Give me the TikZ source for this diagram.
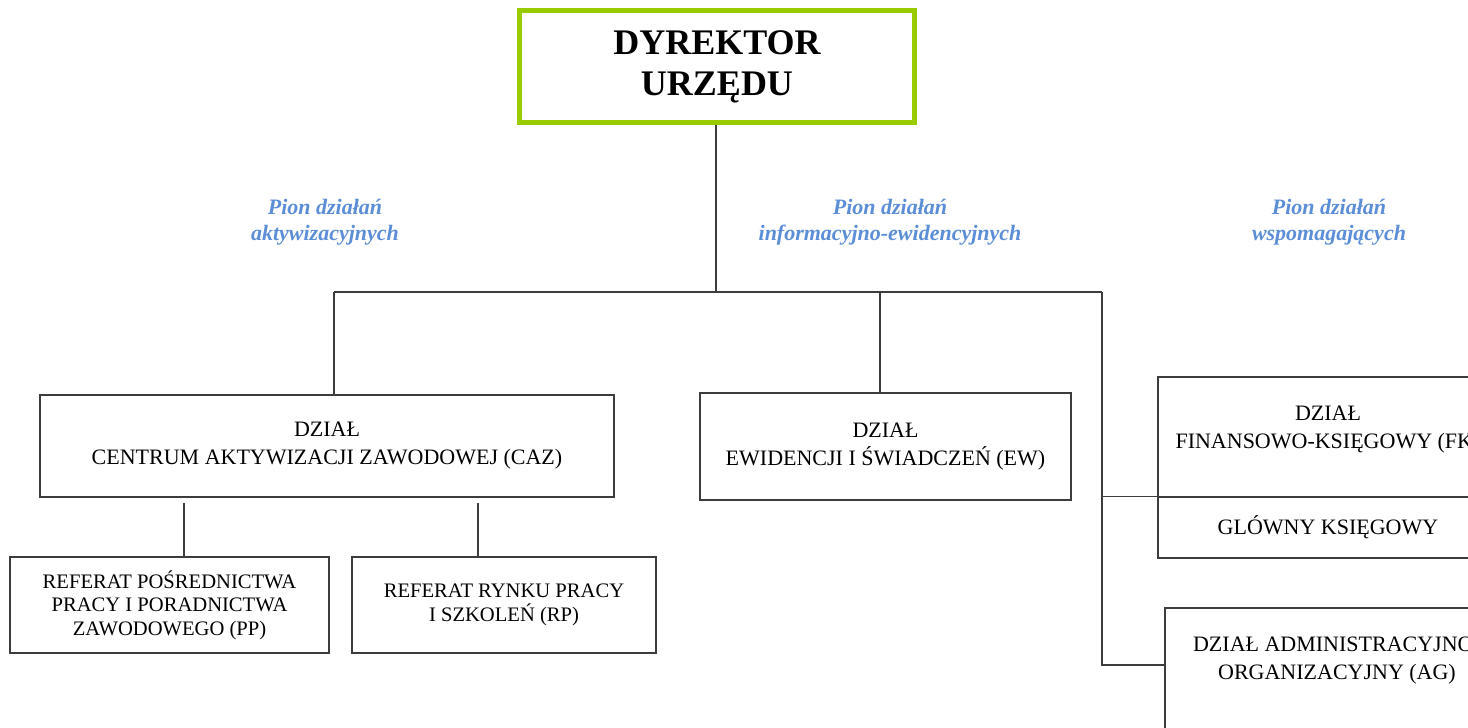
\documentclass[tikz,border=0pt]{standalone}
\usepackage{fontspec}
\setmainfont{Liberation Serif}
\usepackage{color}
\definecolor{dyrgreen}{RGB}{153,204,0}
\definecolor{pionblue}{RGB}{91,142,214}
\definecolor{linegray}{RGB}{60,60,60}

\tikzset{
  box/.style={draw=linegray, line width=0.75pt, align=center, inner sep=0pt, font=\fontsize{11}{14}\selectfont},
  smallbox/.style={box, font=\fontsize{10.3}{11.7}\selectfont},
  pion/.style={align=center, text=pionblue, font=\fontsize{11}{13}\selectfont\bfseries\itshape},
  wire/.style={draw=linegray, line width=0.75pt}
}

\begin{document}
\begin{tikzpicture}[x=0.5pt, y=-0.5pt]
      \useasboundingbox (0,0) rectangle (1468,728);
      \clip (0,0) rectangle (1468,728);

      \node[draw=dyrgreen, line width=2.5pt, minimum width=197.5pt, minimum height=56pt, align=center,
            font=\fontsize{18}{20.5}\selectfont\bfseries] (DYR) at (717,66.5) {DYREKTOR\\URZĘDU};

      \node[pion] (PA) at (325,222) {Pion działań\\aktywizacyjnych};
      \node[pion] (PI) at (890,222) {Pion działań\\informacyjno-ewidencyjnych};
      \node[pion] (PW) at (1329,222) {Pion działań\\wspomagających};

      \node[box, minimum width=287pt, minimum height=51pt] (CAZ) at (327,446) {DZIAŁ\\CENTRUM AKTYWIZACJI ZAWODOWEJ (CAZ)};
      \node[box, minimum width=185.5pt, minimum height=53.5pt] (EW) at (885.5,446.5) {DZIAŁ\\EWIDENCJI I ŚWIADCZEŃ (EW)};
      \node[box, minimum width=170pt, minimum height=60pt] (FK) at (1328,437) {};
      \node[box, draw=none] (FKT) at (1328,430) {DZIAŁ\\FINANSOWO-KSIĘGOWY (FK)};
      \node[box, minimum width=170pt, minimum height=30.5pt] (GK) at (1328,527.5) {GLÓWNY KSIĘGOWY};
      \node[box, minimum width=172pt, minimum height=90pt] (AG) at (1337,698) {};
      \node[box, draw=none] (AGT) at (1337,661) {DZIAŁ ADMINISTRACYJNO-\\ORGANIZACYJNY (AG)};

      \node[smallbox, minimum width=159.5pt, minimum height=48pt] (PP) at (169.5,605) {REFERAT POŚREDNICTWA\\PRACY I PORADNICTWA\\ZAWODOWEGO (PP)};
      \node[smallbox, minimum width=152pt, minimum height=48pt] (RP) at (504,605) {REFERAT RYNKU PRACY\\I SZKOLEŃ (RP)};

      \coordinate (BL) at (334,292);
      \coordinate (BM) at (880,292);
      \coordinate (BR) at (1102,292);
      \coordinate (AGIN) at (1165,665);
      \coordinate (PPUP) at (184,503);
      \coordinate (RPUP) at (478,503);

      \draw[wire] (DYR.south -| 716,0) to (716,292);
      \draw[wire] (BL) to (BR);
      \draw[wire] (BL) to (BL |- CAZ.north);
      \draw[wire] (BM) to (BM |- EW.north);
      \draw[wire] (BR) to (BR |- AGIN) to (AGIN);
      \draw[wire] (BR |- GK.north west) to (GK.north west);
      \draw[wire] (PPUP) to (PPUP |- PP.north);
      \draw[wire] (RPUP) to (RPUP |- RP.north);
    \end{tikzpicture}
\end{document}
